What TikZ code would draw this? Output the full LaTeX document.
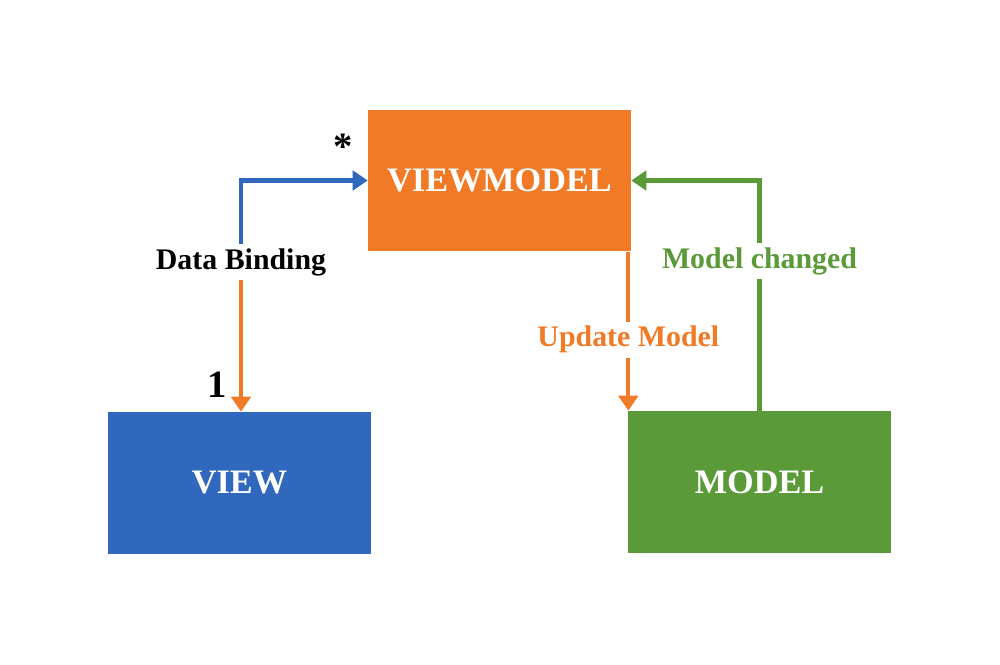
\documentclass[tikz,border=0pt]{standalone}
\usepackage{fontspec}
\setmainfont{Liberation Serif}
\usepackage{xcolor}
\usepackage{tikz}
\usetikzlibrary{arrows.meta}

\definecolor{vmorange}{RGB}{240,122,38}
\definecolor{viewblue}{RGB}{48,104,190}
\definecolor{modelgreen}{RGB}{91,154,57}

\begin{document}
\begin{tikzpicture}[x=0.02cm,y=-0.02cm,
		box/.style={fill=#1, text=white, inner sep=0pt, minimum width=5.26cm, minimum height=2.84cm, font=\fontsize{19.5}{23}\selectfont\bfseries},
		link/.style={line width=2.3pt, #1, -{Triangle[width=11pt,length=8.5pt]}},
		tag/.style={font=\fontsize{17}{20}\selectfont\bfseries, inner sep=2.5pt, fill=white}]
				\useasboundingbox (0,0) rectangle (1000,665);
				
				\node [box=vmorange] (vm) at (499.5,180.5) {VIEWMODEL};
				\node [box=viewblue] (view) at (239.5,483) {VIEW};
				\node [box=modelgreen] (model) at (759.5,482) {MODEL};
				
				% view <-> viewmodel
				\node [tag, fill=none] (bind) at (241,262) {Data Binding};
				\draw [link=viewblue] (bind.north) |- (vm.west);
				\draw [link=vmorange] (bind.south) -- (bind.south |- view.north);
				
				% viewmodel -> model
				\coordinate (upd) at ([xshift=-0.06cm]vm.south east);
				\draw [link=vmorange] (upd) -- (upd |- model.north) node [tag, text=vmorange, pos=0.553] (updlbl) {Update Model};
				
				% model -> viewmodel
				\draw [link=modelgreen] (model.north) |- (vm.east) node [tag, text=modelgreen, pos=0.325] (chglbl) {Model changed};
				
				\node [font=\fontsize{22}{24}\selectfont\bfseries, inner sep=0pt] (star) at (343,147) {*};
				\node [font=\fontsize{22}{24}\selectfont\bfseries, inner sep=0pt] (one) at (217,385) {1};
\end{tikzpicture}
\end{document}
